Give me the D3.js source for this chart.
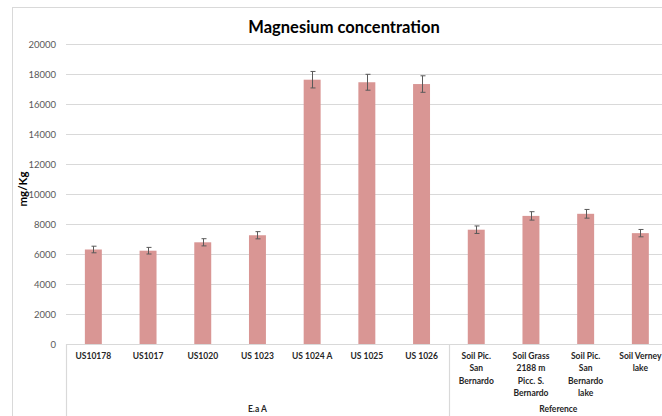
<!DOCTYPE html>
<html>
<head>
<meta charset="utf-8">
<script src="https://cdn.jsdelivr.net/npm/d3@7"></script>
<style>
  html, body { margin: 0; padding: 0; background: #fff; }
  svg { display: block; font-family: Lato, "Liberation Sans", sans-serif; }
</style>
</head>
<body>
<div id="chart"></div>
<script>
const categories = ["US10178", "US1017", "US1020", "US 1023", "US 1024 A", "US 1025", "US 1026",
  "Soil Pic. San Bernardo", "Soil Grass 2188 m Picc. S. Bernardo", "Soil Pic. San Bernardo lake", "Soil Verney lake"];

const categoryLines = [
  ["US10178"], ["US1017"], ["US1020"], ["US 1023"], ["US 1024 A"], ["US 1025"], ["US 1026"],
  ["Soil Pic.", "San", "Bernardo"],
  ["Soil Grass", "2188 m", "Picc. S.", "Bernardo"],
  ["Soil Pic.", "San", "Bernardo", "lake"],
  ["Soil Verney", "lake"]
];

const values = [6300, 6220, 6780, 7250, 17620, 17450, 17330, 7620, 8540, 8680, 7390];
const errors = [220, 220, 240, 240, 550, 530, 550, 250, 280, 290, 245];

const groups = [
  { name: "E.a A", from: 0, to: 6 },
  { name: "Reference", from: 7, to: 10 }
];

const yTicks = [0, 2000, 4000, 6000, 8000, 10000, 12000, 14000, 16000, 18000, 20000];

const width = 662, height = 416;
const plotLeft = 66, plotTop = 44, plotBottom = 344;

const svg = d3.select("#chart").append("svg")
  .attr("width", width)
  .attr("height", height);

// chart frame
svg.append("rect")
  .attr("x", 12.5).attr("y", 7.5)
  .attr("width", 700).attr("height", 500)
  .attr("fill", "none")
  .attr("stroke", "#d9d9d9");

const x = d3.scaleBand()
  .domain(categories)
  .range([plotLeft, plotLeft + 11 * 54.7])
  .paddingInner(0.69)
  .paddingOuter(0.345);

const y = d3.scaleLinear()
  .domain([0, 20000])
  .range([plotBottom, plotTop]);

// gridlines + y labels
const yAxis = svg.append("g")
  .attr("transform", `translate(${plotLeft},0)`)
  .call(d3.axisLeft(y).tickValues(yTicks).tickSize(-(width - plotLeft)).tickPadding(10).tickFormat(d3.format("d")));
yAxis.select(".domain").remove();
yAxis.selectAll(".tick line").attr("stroke", "#d9d9d9").attr("stroke-width", 1.2);
yAxis.selectAll(".tick text")
  .attr("fill", "#595959")
  .style("font-size", "9.5px")
  .style("font-family", "Lato, sans-serif");

svg.append("text")
  .attr("transform", "rotate(-90)")
  .attr("x", -189)
  .attr("y", 27)
  .attr("text-anchor", "middle")
  .attr("fill", "#000")
  .style("font-size", "11.5px")
  .style("font-weight", "bold")
  .text("mg/Kg");

// title
svg.append("text")
  .attr("x", 344)
  .attr("y", 33)
  .attr("text-anchor", "middle")
  .attr("fill", "#000")
  .style("font-size", "16.5px")
  .style("font-weight", "bold")
  .text("Magnesium concentration");

// bars
svg.append("g")
  .selectAll("rect")
  .data(categories)
  .join("rect")
  .attr("x", d => x(d))
  .attr("y", (d, i) => y(values[i]))
  .attr("width", x.bandwidth())
  .attr("height", (d, i) => y(0) - y(values[i]))
  .attr("fill", "#d99694");

// error bars
const err = svg.append("g").attr("stroke", "#595959").attr("stroke-width", 1);
categories.forEach((c, i) => {
  const cx = Math.round(x(c) + x.bandwidth() / 2) + 0.5;
  const y1 = y(values[i] + errors[i]);
  const y2 = y(values[i] - errors[i]);
  err.append("line").attr("x1", cx).attr("x2", cx).attr("y1", y1).attr("y2", y2);
  err.append("line").attr("x1", cx - 2).attr("x2", cx + 3).attr("y1", y1).attr("y2", y1);
  err.append("line").attr("x1", cx - 2).attr("x2", cx + 3).attr("y1", y2).attr("y2", y2);
});

// category axis
const xAxis = svg.append("g")
  .attr("transform", `translate(0,${plotBottom})`)
  .call(d3.axisBottom(x).tickSize(0).tickFormat(""));
xAxis.select(".domain").remove();

svg.append("line")
  .attr("x1", plotLeft).attr("x2", width)
  .attr("y1", plotBottom + 0.5).attr("y2", plotBottom + 0.5)
  .attr("stroke", "#d9d9d9").attr("stroke-width", 1.2);

const labels = svg.append("g");
categories.forEach((c, i) => {
  const t = labels.append("text")
    .attr("x", x(c) + x.bandwidth() / 2)
    .attr("y", 359)
    .attr("text-anchor", "middle")
    .attr("fill", "#262626")
    .style("font-size", "8.5px")
    .style("font-weight", "bold");
  categoryLines[i].forEach((line, j) => {
    t.append("tspan")
      .attr("x", x(c) + x.bandwidth() / 2)
      .attr("dy", j === 0 ? 0 : 12.3)
      .text(line);
  });
});

// group separators and names
const step = x.step();
const groupEdges = [plotLeft, plotLeft + 7 * step];
groupEdges.forEach(gx => {
  svg.append("line")
    .attr("x1", Math.round(gx) + 0.5).attr("x2", Math.round(gx) + 0.5)
    .attr("y1", plotBottom).attr("y2", height)
    .attr("stroke", "#d9d9d9").attr("stroke-width", 1.2);
});

groups.forEach(g => {
  const gx = (x(categories[g.from]) + x(categories[g.to]) + x.bandwidth()) / 2;
  svg.append("text")
    .attr("x", gx)
    .attr("y", 412)
    .attr("text-anchor", "middle")
    .attr("fill", "#262626")
    .style("font-size", "8.5px")
    .style("font-weight", "bold")
    .text(g.name);
});
</script>
</body>
</html>
